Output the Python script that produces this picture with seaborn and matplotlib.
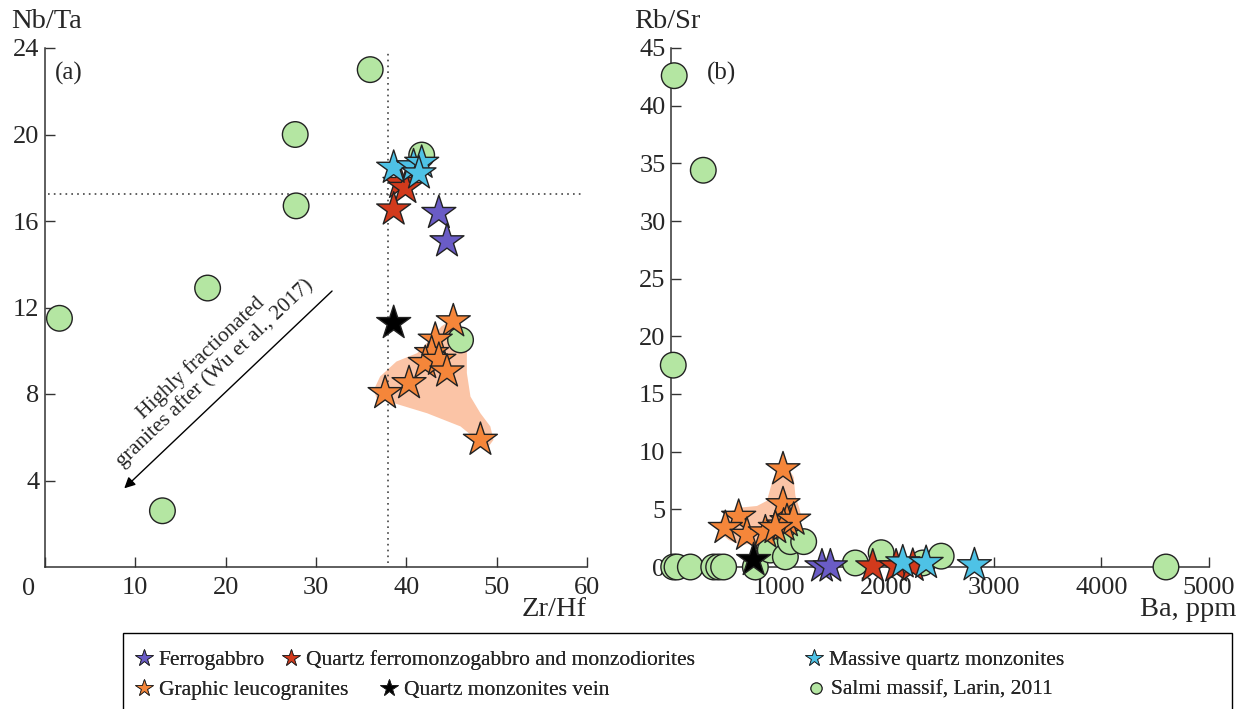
import matplotlib
matplotlib.use("Agg")
import numpy as np
import pandas as pd
import seaborn as sns
import matplotlib.pyplot as plt
from matplotlib.lines import Line2D
from matplotlib.patches import Polygon, Rectangle

# ---------------- DATA (a): Zr/Hf vs Nb/Ta ------------------
ferro_zrhf = [43.6, 44.5]
ferro_nbta = [16.37, 15.06]
qfm_zrhf = [39.3, 39.9, 38.6]
qfm_nbta = [17.76, 17.53, 16.53]
mqm_zrhf = [38.6, 40.8, 41.7, 41.4]
mqm_nbta = [18.46, 18.53, 18.69, 18.2]
graphic_zrhf = [45.2, 43.2, 42.8, 42.1, 43.6, 44.5, 40.3, 37.65, 48.2]
graphic_nbta = [11.36, 10.51, 9.89, 9.43, 9.58, 9.04, 8.50, 8.04, 5.88]
vein_zrhf = [38.6]
vein_nbta = [11.28]
salmi_zrhf = [36.0, 27.7, 27.8, 41.7, 18.0, 1.6, 13.0, 46.0]
salmi_nbta = [23.0, 20.0, 16.7, 19.05, 12.9, 11.5, 2.6, 10.5]

# graphic leucogranite field (a)
field_a_zrhf = [36.4, 37.1, 38.9, 41.2, 42.6, 43.9, 45.0, 46.0, 46.7, 46.7, 47.1,
                48.2, 49.3, 49.65, 49.1, 47.8, 46.0, 42.3, 38.6, 36.7]
field_a_nbta = [8.19, 8.81, 9.50, 9.89, 10.51, 11.13, 11.44, 10.97, 10.36, 8.97, 7.88,
                7.11, 6.50, 5.88, 5.57, 5.88, 6.50, 7.11, 7.58, 7.81]

# reference lines
zrhf_ref = 38.0
nbta_ref = 17.25

# ---------------- DATA (b): Ba vs Rb/Sr ------------------
ferro_ba = [1403, 1481]
ferro_rbsr = [0.05, 0.05]
qfm_ba = [1875, 2092, 2247]
qfm_rbsr = [0.05, 0.05, 0.1]
mqm_ba = [2154, 2371, 2820]
mqm_rbsr = [0.4, 0.35, 0.15]
graphic_ba = [1041, 1041, 629, 505, 706, 877, 1078, 1047, 1140, 970]
graphic_rbsr = [8.47, 5.44, 4.35, 3.38, 2.79, 3.0, 3.97, 3.59, 4.1, 3.38]
vein_ba = [768]
vein_rbsr = [0.6]
salmi_ba = [30, 300, 21, 25, 56, 180, 397, 443, 489, 784, 923, 1063, 1109, 1233,
            1713, 1953, 2340, 2511, 4600]
salmi_rbsr = [42.6, 34.4, 17.5, 0, 0, 0, 0, 0, 0, 0, 1.47, 0.88, 2.2, 2.2,
              0.35, 1.24, 0.35, 0.94, 0]

field_b_ba = [443, 520, 644, 799, 892, 939, 985, 1078, 1140, 1156, 1196, 1217,
              1171, 1078, 954, 799, 644, 536, 458]
field_b_rbsr = [3.82, 4.71, 5.15, 5.29, 5.74, 7.35, 8.24, 8.82, 7.79, 6.18, 5.0, 4.12,
                3.24, 2.65, 2.35, 2.06, 1.91, 2.35, 2.94]

groups = ["Salmi massif, Larin, 2011", "Ferrogabbro",
          "Quartz ferromonzogabbro and monzodiorites", "Massive quartz monzonites",
          "Graphic leucogranites", "Quartz monzonites vein"]
colors = {"Ferrogabbro": "#6a5cc6",
          "Quartz ferromonzogabbro and monzodiorites": "#d23a1c",
          "Massive quartz monzonites": "#4ec2e6",
          "Graphic leucogranites": "#f5863a",
          "Quartz monzonites vein": "#000000",
          "Salmi massif, Larin, 2011": "#b4e6a2"}
markers = {g: "*" for g in groups}
markers["Salmi massif, Larin, 2011"] = "o"
sizes = {g: 660 for g in groups}
sizes["Salmi massif, Larin, 2011"] = 340
SHADE = "#fbc4a6"


def make_df(xs, ys):
    rows = []
    for g, x, y in zip(groups, xs, ys):
        for xi, yi in zip(x, y):
            rows.append((g, xi, yi))
    return pd.DataFrame(rows, columns=["group", "x", "y"])


df_a = make_df([salmi_zrhf, ferro_zrhf, qfm_zrhf, mqm_zrhf, graphic_zrhf, vein_zrhf],
               [salmi_nbta, ferro_nbta, qfm_nbta, mqm_nbta, graphic_nbta, vein_nbta])
df_b = make_df([salmi_ba, ferro_ba, qfm_ba, mqm_ba, graphic_ba, vein_ba],
               [salmi_rbsr, ferro_rbsr, qfm_rbsr, mqm_rbsr, graphic_rbsr, vein_rbsr])

# ---------------- STYLE ------------------
sns.set_style("ticks")
plt.rcParams["font.family"] = ["Liberation Serif", "DejaVu Serif"]
plt.rcParams["axes.edgecolor"] = "#333333"
plt.rcParams["axes.linewidth"] = 1.1

TICK_FS = 19
LABEL_FS = 20.5

W, H = 1241, 709
fig = plt.figure(figsize=(W / 100, H / 100), dpi=100)
ax_a = fig.add_axes([45 / W, 1 - 567 / H, (587 - 45) / W, (567 - 48) / H])
ax_b = fig.add_axes([671 / W, 1 - 567 / H, (1209 - 671) / W, (567 - 48) / H])


def scatter(ax, df):
    sns.scatterplot(data=df, x="x", y="y", hue="group", style="group", size="group",
                    palette=colors, markers=markers, sizes=sizes, edgecolor="#222222",
                    linewidth=1.0, legend=False, ax=ax, zorder=3, clip_on=False)


# ---------------- PANEL (a) ------------------
ax_a.add_patch(Polygon(np.column_stack([field_a_zrhf, field_a_nbta]), closed=True,
                       facecolor=SHADE, edgecolor="none", zorder=1))
ax_a.plot([zrhf_ref, zrhf_ref], [0.2, 23.8], ls=(0, (1, 2.5)), color="#444444", lw=1.2, zorder=2)
ax_a.plot([0.3, 59.5], [nbta_ref, nbta_ref], ls=(0, (1, 2.5)), color="#444444", lw=1.2, zorder=2)
scatter(ax_a, df_a)
ax_a.annotate("", xy=(8.55, 3.55), xytext=(32.0, 12.85),
              arrowprops=dict(arrowstyle="-|>", lw=1.0, color="black", mutation_scale=16))
ax_a.text(18.0, 9.3, "Highly fractionated\ngranites after (Wu et al., 2017)",
          rotation=43.5, rotation_mode="anchor", ha="center", va="center",
          multialignment="center", fontsize=15.5, linespacing=1.05)
ax_a.set_xlim(0, 60)
ax_a.set_ylim(0, 24)
ax_a.set_xticks([0, 10, 20, 30, 40, 50, 60])
ax_a.set_xticklabels(["", "10", "20", "30", "40", "50", "60"])
ax_a.set_yticks([4, 8, 12, 16, 20, 24])
ax_a.annotate("0", xy=(0, 0), xycoords="axes fraction", xytext=(-16, -11),
              textcoords="offset pixels", ha="center", va="top", fontsize=TICK_FS)
ax_a.text(0.018, 0.95, "(a)", transform=ax_a.transAxes, ha="left", va="center", fontsize=18)

# ---------------- PANEL (b) ------------------
ax_b.add_patch(Polygon(np.column_stack([field_b_ba, field_b_rbsr]), closed=True,
                       facecolor=SHADE, edgecolor="none", zorder=1))
scatter(ax_b, df_b)
ax_b.set_xlim(0, 5000)
ax_b.set_ylim(0, 45)
ax_b.set_xticks([1000, 2000, 3000, 4000, 5000])
ax_b.set_yticks([0, 5, 10, 15, 20, 25, 30, 35, 40, 45])
ax_b.text(0.066, 0.95, "(b)", transform=ax_b.transAxes, ha="left", va="center", fontsize=18)

for ax in (ax_a, ax_b):
    sns.despine(ax=ax)
    ax.set_xlabel("")
    ax.set_ylabel("")
    ax.tick_params(direction="in", length=7, width=1.0, labelsize=TICK_FS, color="#333333")
    ax.tick_params(axis="x", pad=7)
    ax.tick_params(axis="y", pad=4)

# axis titles
fig.text(11 / W, 1 - 21 / H, "Nb/Ta", ha="left", va="center", fontsize=LABEL_FS)
fig.text(634 / W, 1 - 21 / H, "Rb/Sr", ha="left", va="center", fontsize=LABEL_FS)
fig.text(587 / W, 1 - 610 / H, "Zr/Hf", ha="right", va="center", fontsize=LABEL_FS)
fig.text(1236 / W, 1 - 610 / H, "Ba, ppm", ha="right", va="center", fontsize=LABEL_FS)

# ---------------- LEGEND ------------------
legend_rows = [
    (660, ["Ferrogabbro", "Quartz ferromonzogabbro and monzodiorites", "Massive quartz monzonites"],
     [135, 282, 805]),
    (690, ["Graphic leucogranites", "Quartz monzonites vein", "Salmi massif, Larin, 2011"],
     [135, 380, 807]),
]


def handle(g):
    if markers[g] == "o":
        return Line2D([], [], ls="none", marker="o", ms=8, mfc=colors[g], mec="#222222", mew=0.8)
    return Line2D([], [], ls="none", marker="*", ms=13, mfc=colors[g], mec="#222222", mew=0.6)


for ypx, labels, xs in legend_rows:
    for g, xpx in zip(labels, xs):
        leg = fig.legend([handle(g)], [g], loc="center left",
                         bbox_to_anchor=(xpx / W, 1 - ypx / H), frameon=False, fontsize=15.5,
                         handlelength=0.8, handletextpad=0.3, borderpad=0, borderaxespad=0)
        fig.add_artist(leg)

fig.add_artist(Rectangle((123 / W, -0.02), (1232 - 123) / W, (709 - 633) / H + 0.02,
                         transform=fig.transFigure, fill=False, edgecolor="black", lw=1.0))

fig.savefig("out.png", dpi=100)
